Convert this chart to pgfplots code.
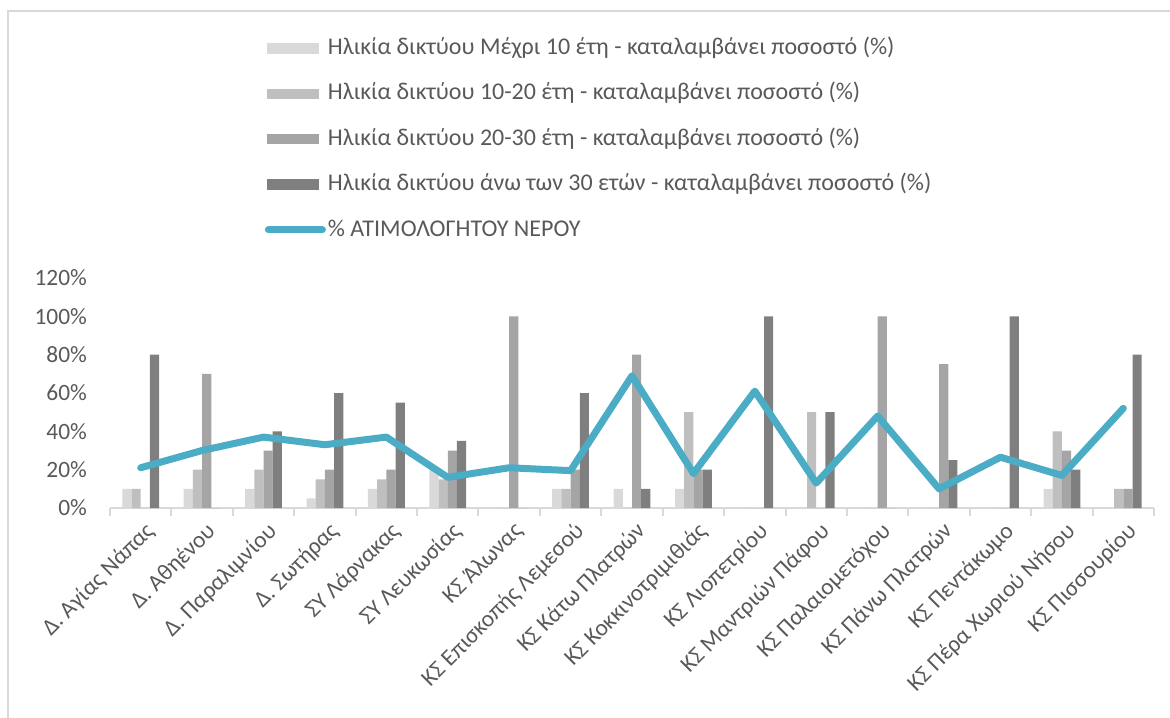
\documentclass[border=0pt]{standalone}
\usepackage{fontspec}
\setmainfont{Carlito}
\usepackage{pgfplots}
\pgfplotsset{compat=1.18}
\definecolor{sA}{HTML}{D9D9D9}
\definecolor{sB}{HTML}{BFBFBF}
\definecolor{sC}{HTML}{A5A5A5}
\definecolor{sD}{HTML}{7F7F7F}
\definecolor{lineblue}{HTML}{4BACC6}
\definecolor{txt}{HTML}{595959}
\definecolor{frame}{HTML}{D9D9D9}
\begin{document}
\begin{tikzpicture}
\useasboundingbox (0,0) rectangle (585pt,358.5pt);
\draw[frame, line width=1pt] (3.9pt,-2pt) -- (3.9pt,353pt) -- (590pt,353pt);
\begin{axis}[
  at={(55pt,104.5pt)}, anchor=south west,
  scale only axis, width=522pt, height=115pt,
  xmin=-0.5, xmax=16.5, ymin=0, ymax=120,
  axis x line=bottom, axis y line=left,
  axis line style={-},
  x axis line style={draw=frame, line width=1pt},
  y axis line style={draw=none},
  xtick={0,...,16},
  minor xtick={-0.5,0.5,...,16.5},
  major tick length=0pt, minor tick length=4pt,
  tick align=outside,
  minor x tick style={draw=frame, line width=1pt},
  ytick={0,20,...,120},
  yticklabels={0\%,20\%,40\%,60\%,80\%,100\%,120\%},
  xticklabels={Δ. Αγίας Νάπας,Δ. Αθηένου,Δ. Παραλιμνίου,Δ. Σωτήρας,ΣΥ Λάρνακας,ΣΥ Λευκωσίας,ΚΣ Άλωνας,ΚΣ Επισκοπής Λεμεσού,ΚΣ Κάτω Πλατρών,ΚΣ Κοκκινοτριμιθιάς,ΚΣ Λιοπετρίου,ΚΣ Μαντριών Πάφου,ΚΣ Παλαιομετόχου,ΚΣ Πάνω Πλατρών,ΚΣ Πεντάκωμο,ΚΣ Πέρα Χωριού Νήσου,ΚΣ Πισσουρίου},
  tick label style={font=\fontsize{11.7}{13}\selectfont, text=txt},
  xticklabel style={rotate=45, anchor=east, xshift=0pt, yshift=-10.5pt},
  yticklabel style={xshift=-8pt},
  legend cell align=left,
  legend style={at={(0.148,2.058)}, anchor=north west, draw=none, fill=none,
    font=\fontsize{12}{14}\selectfont, text=txt, row sep=9.4pt, inner sep=0pt,
    nodes={inner sep=1pt, text height=8.7pt, text depth=2.6pt}},
]
\addplot[ybar, bar width=4.6pt, bar shift=-6.9pt, fill=sA, draw=none,
  legend image code/.code={\fill[sA] (0pt,-2.6pt) rectangle (26pt,2.6pt);}]
  coordinates {(0,10)(1,10)(2,10)(3,5)(4,10)(5,20)(6,0)(7,10)(8,10)(9,10)(10,0)(11,0)(12,0)(13,0)(14,0)(15,10)(16,0)};
\addlegendentry{Ηλικία δικτύου Μέχρι 10 έτη - καταλαμβάνει ποσοστό (\%)}
\addplot[ybar, bar width=4.6pt, bar shift=-2.3pt, fill=sB, draw=none,
  legend image code/.code={\fill[sB] (0pt,-2.6pt) rectangle (26pt,2.6pt);}]
  coordinates {(0,10)(1,20)(2,20)(3,15)(4,15)(5,15)(6,0)(7,10)(8,0)(9,50)(10,0)(11,50)(12,0)(13,0)(14,0)(15,40)(16,10)};
\addlegendentry{Ηλικία δικτύου 10-20 έτη - καταλαμβάνει ποσοστό (\%)}
\addplot[ybar, bar width=4.6pt, bar shift=2.3pt, fill=sC, draw=none,
  legend image code/.code={\fill[sC] (0pt,-2.6pt) rectangle (26pt,2.6pt);}]
  coordinates {(0,0)(1,70)(2,30)(3,20)(4,20)(5,30)(6,100)(7,20)(8,80)(9,20)(10,0)(11,0)(12,100)(13,75)(14,0)(15,30)(16,10)};
\addlegendentry{Ηλικία δικτύου 20-30 έτη - καταλαμβάνει ποσοστό (\%)}
\addplot[ybar, bar width=4.6pt, bar shift=6.9pt, fill=sD, draw=none,
  legend image code/.code={\fill[sD] (0pt,-2.6pt) rectangle (26pt,2.6pt);}]
  coordinates {(0,80)(1,0)(2,40)(3,60)(4,55)(5,35)(6,0)(7,60)(8,10)(9,20)(10,100)(11,50)(12,0)(13,25)(14,100)(15,20)(16,80)};
\addlegendentry{Ηλικία δικτύου άνω των 30 ετών - καταλαμβάνει ποσοστό (\%)}
\addplot[sharp plot, color=lineblue, line width=3.5pt, line cap=round, line join=round, mark=none,
  legend image code/.code={\draw[lineblue, line width=3.5pt, line cap=round] (0.5pt,0pt) -- (27.5pt,0pt);}]
  coordinates {(0,21)(1,30)(2,37)(3,33)(4,37)(5,16)(6,21)(7,19.5)(8,69)(9,18)(10,61)(11,13)(12,48)(13,10)(14,26.5)(15,17)(16,52)};
\addlegendentry{\% ΑΤΙΜΟΛΟΓΗΤΟΥ ΝΕΡΟΥ}
\end{axis}
\end{tikzpicture}
\end{document}
